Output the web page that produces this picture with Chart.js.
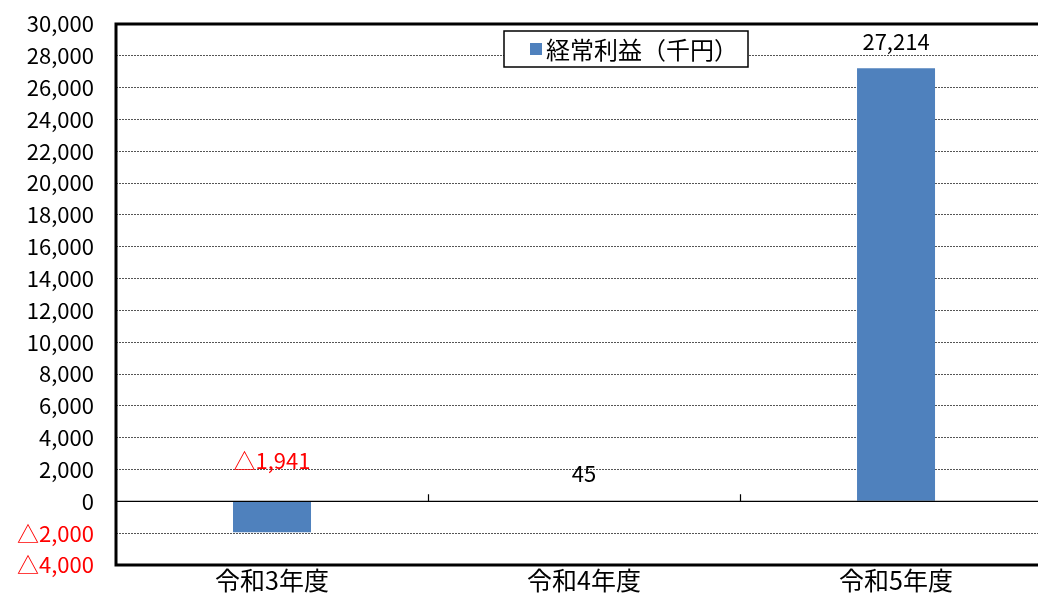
<!DOCTYPE html>
<html lang="ja">
<head>
<meta charset="utf-8">
<title>経常利益</title>
<script src="https://cdn.jsdelivr.net/npm/chart.js@4"></script>
<style>
  html, body { margin: 0; padding: 0; background: #fff; overflow: hidden; }
  #wrap { width: 1038px; height: 594px; }
</style>
</head>
<body>
<div id="wrap"><canvas id="chart" width="1038" height="594"></canvas></div>
<script>
const categories = ['令和3年度', '令和4年度', '令和5年度'];
const profit = [-1941, 45, 27214];
const seriesLabel = '経常利益（千円）';
const yMin = -4000;
const yMax = 30000;
const yStep = 2000;
// the plot area runs a little past the right edge of the picture
const xMin = -0.5;
const xMax = 2.455;

const FONT = '"Noto Sans CJK JP", "Noto Sans", sans-serif';
const BAR = '#4F81BD';

const fmt = (v) => (v < 0 ? '△' : '') + Math.abs(v).toLocaleString('en-US');

// frame, zero line, category ticks, value labels and the boxed legend
const decor = {
  id: 'decor',
  afterDatasetsDraw(chart) {
    const { ctx, chartArea: a, scales: { x, y } } = chart;
    const y0 = y.getPixelForValue(0);
    ctx.save();
    ctx.strokeStyle = '#000';

    ctx.lineWidth = 1.2;
    ctx.beginPath();
    ctx.moveTo(a.left, y0); ctx.lineTo(a.right, y0);
    for (let i = 0; i < categories.length - 1; i++) {
      const bx = Math.round(x.getPixelForValue(i + 0.5)) + 0.5;
      ctx.moveTo(bx, y0); ctx.lineTo(bx, y0 - 7);
    }
    ctx.stroke();

    ctx.lineWidth = 3;
    ctx.beginPath();
    ctx.moveTo(a.right + 20, a.top); ctx.lineTo(a.left, a.top);
    ctx.lineTo(a.left, a.bottom); ctx.lineTo(a.right + 20, a.bottom);
    ctx.stroke();

    ctx.font = '22px ' + FONT;
    ctx.textAlign = 'center';
    ctx.textBaseline = 'middle';
    chart.getDatasetMeta(0).data.forEach((bar, i) => {
      const v = profit[i];
      ctx.fillStyle = v < 0 ? '#FF0000' : '#000';
      const top = y.getPixelForValue(Math.max(v, 0));
      ctx.fillText(fmt(v), bar.x, top - (v < 0 ? 41 : 27));
    });

    // legend
    const lx = 504, ly = 31, lw = 244, lh = 36;
    ctx.fillStyle = '#fff';
    ctx.fillRect(lx, ly, lw, lh);
    ctx.lineWidth = 1.5;
    ctx.strokeRect(lx, ly, lw, lh);
    ctx.fillStyle = BAR;
    ctx.fillRect(lx + 26, ly + 12, 12, 12);
    ctx.fillStyle = '#000';
    ctx.font = '24px ' + FONT;
    ctx.textAlign = 'left';
    ctx.fillText(chart.data.datasets[0].label, lx + 42, ly + lh / 2 + 1);
    ctx.restore();
  }
};

const noPad = (s) => { s.paddingTop = 0; s.paddingBottom = 0; s.paddingLeft = 0; s.paddingRight = 0; };

new Chart(document.getElementById('chart'), {
  type: 'bar',
  data: {
    datasets: [{
      label: seriesLabel,
      data: profit.map((v, i) => ({ x: i, y: v })),
      backgroundColor: BAR,
      borderWidth: 0,
      barPercentage: 0.25,
      categoryPercentage: 1,
    }],
  },
  options: {
    responsive: false,
    animation: false,
    layout: { padding: { top: 24, right: 0, left: 0, bottom: 0 } },
    plugins: {
      legend: { display: false },
      tooltip: { enabled: false },
    },
    scales: {
      x: {
        type: 'linear',
        min: xMin,
        max: xMax,
        offset: false,
        grid: { display: false, drawTicks: false },
        border: { display: false },
        ticks: {
          stepSize: 1,
          autoSkip: false,
          maxRotation: 0,
          color: '#000',
          font: { family: FONT, size: 25 },
          padding: 0,
          callback: (v) => (Number.isInteger(v) ? categories[v] : ''),
        },
        afterBuildTicks: (s) => { s.ticks = s.ticks.filter((t) => Number.isInteger(t.value)); },
        afterFit: (s) => { s.height = 29; noPad(s); },
      },
      y: {
        min: yMin,
        max: yMax,
        ticks: {
          stepSize: yStep,
          padding: 22,
          font: { family: FONT, size: 22 },
          color: (c) => (c.tick.value < 0 ? '#FF0000' : '#000'),
          callback: (v) => fmt(v),
        },
        grid: {
          drawTicks: false,
          lineWidth: 1,
          color: (c) => (c.tick.value === 0 || c.tick.value === yMax || c.tick.value === yMin ? 'rgba(0,0,0,0)' : '#555'),
        },
        border: { display: false, dash: [2, 1] },
        afterFit: (s) => { s.width = 116; noPad(s); },
      },
    },
  },
  plugins: [decor],
});
</script>
</body>
</html>
